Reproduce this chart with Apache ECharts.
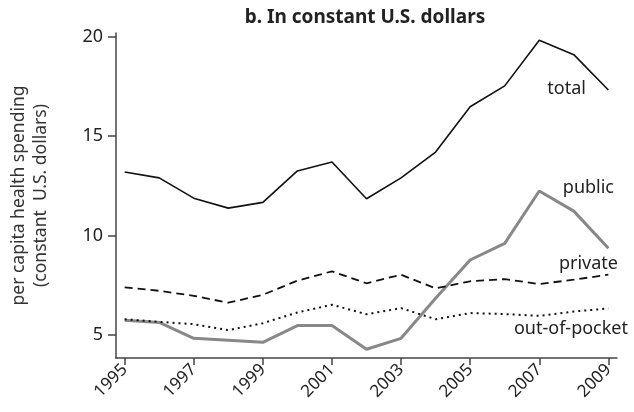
<!DOCTYPE html>
<html>
<head>
<meta charset="utf-8">
<script src="https://cdn.jsdelivr.net/npm/echarts@6/dist/echarts.min.js"></script>
<style>
  html, body { margin: 0; padding: 0; background: #fff; }
  #chart { width: 634px; height: 412px; }
</style>
</head>
<body>
<div id="chart"></div>
<script>
// data
var years = [1995, 1996, 1997, 1998, 1999, 2000, 2001, 2002, 2003, 2004, 2005, 2006, 2007, 2008, 2009];
var total = [13.2, 12.9, 11.88, 11.38, 11.67, 13.25, 13.7, 11.85, 12.9, 14.2, 16.48, 17.53, 19.82, 19.1, 17.32];
var publicSp = [5.74, 5.63, 4.83, 4.73, 4.63, 5.47, 5.47, 4.28, 4.83, 6.85, 8.77, 9.61, 12.24, 11.23, 9.36];
var privateSp = [7.39, 7.22, 6.97, 6.62, 7.02, 7.73, 8.2, 7.6, 8.03, 7.34, 7.7, 7.81, 7.56, 7.78, 8.03];
var outOfPocket = [5.79, 5.66, 5.54, 5.24, 5.59, 6.13, 6.52, 6.04, 6.35, 5.79, 6.1, 6.05, 5.96, 6.18, 6.33];
var xTicks = [1995, 1997, 1999, 2001, 2003, 2005, 2007, 2009];
var yTicks = [5, 10, 15, 20];

function pairs(vals) {
  return years.map(function (y, i) { return [y, vals[i]]; });
}

var font = 'Noto Sans';
var labelFont = '18px "Noto Sans"';
var myChart = echarts.init(document.getElementById('chart'));

var option = {
  animation: false,
  title: {
    text: 'b. In constant U.S. dollars',
    left: 360,
    top: 3,
    textAlign: 'center',
    textStyle: { fontFamily: font, fontSize: 19, fontWeight: 'bold', color: '#222' }
  },
  grid: { left: 102, right: 17, top: 33, bottom: 54 },
  xAxis: {
    type: 'value',
    min: 1994.75,
    max: 2009.25,
    splitLine: { show: false },
    axisLine: { lineStyle: { color: '#444', width: 1.5 } },
    axisTick: { customValues: xTicks, length: 7, lineStyle: { color: '#444', width: 1.5 } },
    axisLabel: {
      customValues: xTicks,
      formatter: function (v) { return String(v); },
      rotate: 45,
      margin: 9,
      fontFamily: font,
      fontSize: 17,
      color: '#222'
    }
  },
  yAxis: {
    type: 'value',
    min: 3.84,
    max: 20.19,
    name: 'per capita health spending\n(constant  U.S. dollars)',
    nameLocation: 'middle',
    nameGap: 64,
    nameTextStyle: { fontFamily: font, fontSize: 17.5, color: '#333', lineHeight: 22 },
    splitLine: { show: false },
    axisLine: { show: true, lineStyle: { color: '#444', width: 1.5 } },
    axisTick: { show: true, customValues: yTicks, length: 8, lineStyle: { color: '#444', width: 1.5 } },
    axisLabel: { customValues: yTicks, margin: 13, fontFamily: font, fontSize: 18, color: '#222' }
  },
  series: [
    {
      name: 'total', type: 'line', data: pairs(total), symbol: 'none',
      lineStyle: { color: '#111', width: 1.6 }
    },
    {
      name: 'public', type: 'line', data: pairs(publicSp), symbol: 'none',
      lineStyle: { color: '#888', width: 3 }
    },
    {
      name: 'private', type: 'line', data: pairs(privateSp), symbol: 'none',
      lineStyle: { color: '#111', width: 1.8, type: [8, 5] }
    },
    {
      name: 'out-of-pocket', type: 'line', data: pairs(outOfPocket), symbol: 'none',
      lineStyle: { color: '#111', width: 2, type: [2, 4] }
    }
  ],
  graphic: [
    { type: 'text', x: 586, y: 89, style: { text: 'total', font: labelFont, fill: '#222', align: 'right', verticalAlign: 'middle' } },
    { type: 'text', x: 614, y: 188, style: { text: 'public', font: labelFont, fill: '#222', align: 'right', verticalAlign: 'middle' } },
    { type: 'text', x: 618, y: 264, style: { text: 'private', font: labelFont, fill: '#222', align: 'right', verticalAlign: 'middle' } },
    { type: 'text', x: 628, y: 329, style: { text: 'out-of-pocket', font: labelFont, fill: '#222', align: 'right', verticalAlign: 'middle' } }
  ]
};

myChart.setOption(option);
</script>
</body>
</html>
